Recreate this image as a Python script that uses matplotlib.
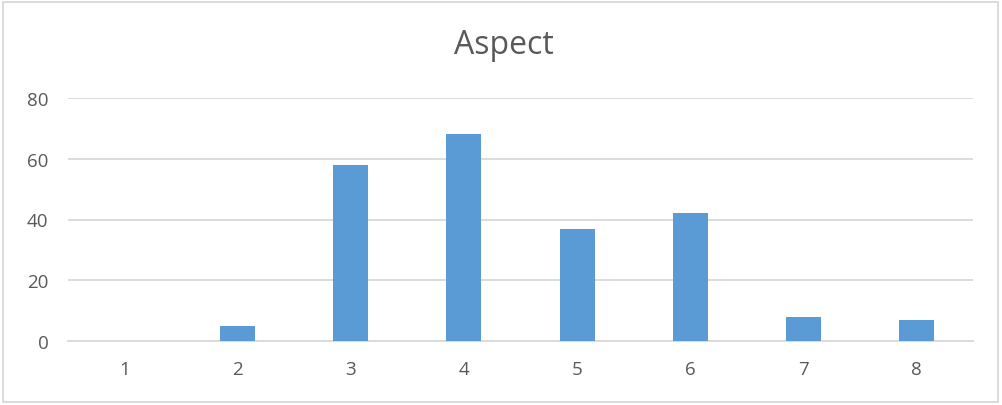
import matplotlib.pyplot as plt
from matplotlib.patches import Rectangle

categories = ['1', '2', '3', '4', '5', '6', '7', '8']
counts = [0, 5, 58, 68, 37, 42, 8, 7]
yticks = [0, 20, 40, 60, 80]

plt.rcParams['font.family'] = ['Open Sans', 'DejaVu Sans']
text_color = '#595959'
grid_color = '#d9d9d9'

fig = plt.figure(figsize=(10.02, 4.06), dpi=100)
ax = fig.add_axes([68 / 1002, 64 / 406, 905 / 1002, 243 / 406])

x = range(len(categories))
ax.bar(x, counts, width=0.31, color='#5b9bd5', zorder=3)

ax.set_xlim(-0.5, len(categories) - 0.5)
ax.set_ylim(0, 80)
ax.set_yticks(yticks)
ax.set_xticks(list(x))
ax.set_xticklabels(categories)
ax.yaxis.grid(True, color=grid_color, linewidth=1.3, zorder=0)
ax.tick_params(length=0, labelsize=13.5, colors=text_color)
ax.tick_params(axis='x', pad=14)
ax.tick_params(axis='y', pad=14)
for side in ['top', 'right', 'left']:
    ax.spines[side].set_visible(False)
ax.spines['bottom'].set_color(grid_color)
ax.spines['bottom'].set_linewidth(1.3)

fig.text(0.503, 0.888, 'Aspect', ha='center', va='center', fontsize=23, color=text_color)

# chart frame
fig.patches.append(Rectangle((3 / 1002, 3 / 406), 995 / 1002, 400 / 406, transform=fig.transFigure,
                             fill=False, edgecolor=grid_color, linewidth=1.3))

fig.savefig('out.png', dpi=100)
